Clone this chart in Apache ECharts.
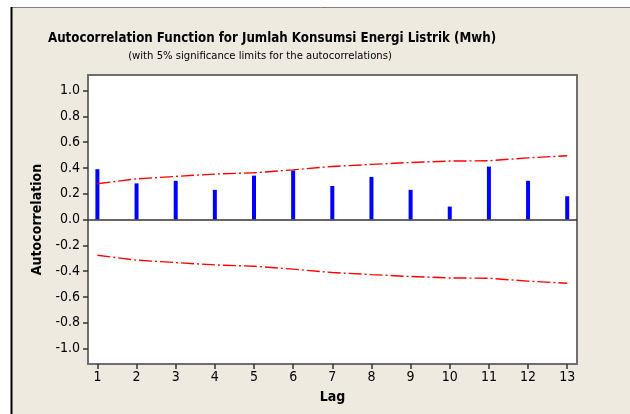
<!DOCTYPE html>
<html>
<head>
<meta charset="utf-8">
<script src="https://cdn.jsdelivr.net/npm/echarts@6/dist/echarts.min.js"></script>
<style>
	html,body{margin:0;padding:0;background:#fff;}
	#acfChart{width:630px;height:414px;}
</style>
</head>
<body>
<div id="acfChart"></div>
<script>
// data
var lags = [1, 2, 3, 4, 5, 6, 7, 8, 9, 10, 11, 12, 13];
var acfValues = [0.39, 0.28, 0.30, 0.23, 0.34, 0.38, 0.26, 0.33, 0.23, 0.10, 0.41, 0.30, 0.18];
var upperLimit = [0.277, 0.315, 0.334, 0.352, 0.362, 0.385, 0.411, 0.427, 0.442, 0.453, 0.455, 0.478, 0.494];
var lowerLimit = [-0.277, -0.315, -0.334, -0.352, -0.362, -0.385, -0.411, -0.427, -0.442, -0.453, -0.455, -0.478, -0.494];
var yTicks = [-1.0, -0.8, -0.6, -0.4, -0.2, 0.0, 0.2, 0.4, 0.6, 0.8, 1.0];

var fontMain = '"Liberation Sans Narrow", "DejaVu Sans Condensed", sans-serif';

function pairs(xs, ys){
	var out = [];
	xs.forEach(function(x, i){ out.push([x, ys[i]]); });
	return out;
}

var limitStyle = {color:'#ff0000', width:1.4, type:[13,3,2,3]};

var option = {
	backgroundColor:'#eeeae0',
	animation:false,
	title:[
		{
			text:'Autocorrelation Function for Jumlah Konsumsi Energi Listrik (Mwh)',
			left:267, top:27, textAlign:'center',
			textStyle:{fontFamily:fontMain, fontSize:13.2, fontWeight:'bold', color:'#000'}
		},
		{
			text:'(with 5% significance limits for the autocorrelations)',
			left:255, top:46, textAlign:'center',
			textStyle:{fontFamily:fontMain, fontSize:11.2, fontWeight:'normal', color:'#000'}
		}
	],
	grid:{left:88, right:53, top:75, bottom:50, show:true, backgroundColor:'#fff', borderColor:'#6e6e6e', borderWidth:2},
	xAxis:{
		type:'value', min:0.76, max:13.25,
		name:'Lag', nameLocation:'middle', nameGap:26,
		nameTextStyle:{fontFamily:fontMain, fontSize:14, fontWeight:'bold', color:'#000'},
		axisLine:{show:false, onZero:false},
		axisTick:{show:true, customValues:lags, length:5, lineStyle:{color:'#333', width:1.5}},
		axisLabel:{customValues:lags, fontFamily:fontMain, fontSize:14, color:'#000', margin:6},
		splitLine:{show:false}
	},
	yAxis:{
		type:'value', min:-1.12, max:1.12,
		name:'Autocorrelation', nameLocation:'middle', nameGap:44,
		nameTextStyle:{fontFamily:fontMain, fontSize:14, fontWeight:'bold', color:'#000'},
		axisLine:{show:false, onZero:false},
		axisTick:{show:true, customValues:yTicks, length:5, lineStyle:{color:'#333', width:1.5}},
		axisLabel:{customValues:yTicks, fontFamily:fontMain, fontSize:14, color:'#000', margin:8,
			formatter:function(v){ return v.toFixed(1); }},
		splitLine:{show:false}
	},
	series:[
		{
			name:'ACF', type:'bar', barWidth:4,
			itemStyle:{color:'#0000ff'},
			data:pairs(lags, acfValues),
			markLine:{silent:true, symbol:'none', label:{show:false},
				lineStyle:{color:'#333', width:1.5, type:'solid'},
				data:[{yAxis:0}]}
		},
		{
			name:'Upper', type:'line', symbol:'none', lineStyle:limitStyle,
			data:pairs(lags, upperLimit)
		},
		{
			name:'Lower', type:'line', symbol:'none', lineStyle:limitStyle,
			data:pairs(lags, lowerLimit)
		}
	],
	graphic:[
		{type:'rect', shape:{x:0, y:0, width:630, height:7}, style:{fill:'#fff'}, silent:true},
		{type:'rect', shape:{x:0, y:0, width:11, height:414}, style:{fill:'#fff'}, silent:true},
		{type:'line', shape:{x1:11, y1:7.5, x2:630, y2:7.5}, style:{stroke:'#808080', lineWidth:1}, silent:true},
		{type:'line', shape:{x1:11.5, y1:7, x2:11.5, y2:414}, style:{stroke:'#000', lineWidth:2}, silent:true}
	]
};

var acfChart = echarts.init(document.getElementById('acfChart'));
acfChart.setOption(option);
</script>
</body>
</html>
